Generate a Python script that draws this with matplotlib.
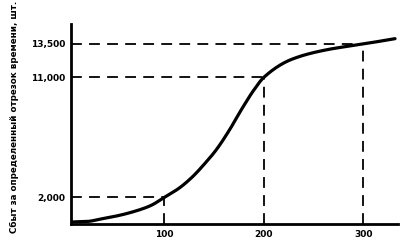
import matplotlib
matplotlib.use("Agg")
import matplotlib.pyplot as plt
import numpy as np

# curve
time_x = [7, 23, 36, 53, 70, 86, 100, 115, 128, 142, 152, 165, 178, 190, 200, 228, 262, 300, 332]
sales_y = [150, 195, 375, 620, 950, 1375, 2000, 2700, 3525, 4650, 5550, 7000, 8650, 10050, 11000, 12350, 13050, 13500, 13900]

# marked points
mark_x = [100, 200, 300]
mark_y = [2000, 11000, 13500]
xtick_labels = ["100", "200", "300"]
ytick_labels = ["2,000", "11,000", "13,500"]
ylabel = "Сбыт за определенный отрезок времени, шт."


def pchip(x, y, xs):
    # monotone cubic through the read points
    x = np.asarray(x, float)
    y = np.asarray(y, float)
    h = np.diff(x)
    d = np.diff(y) / h
    m = np.zeros_like(y)
    for i in range(1, len(x) - 1):
        if d[i - 1] * d[i] > 0:
            w1 = 2 * h[i] + h[i - 1]
            w2 = h[i] + 2 * h[i - 1]
            m[i] = (w1 + w2) / (w1 / d[i - 1] + w2 / d[i])
    m[0] = d[0]
    m[-1] = d[-1]
    idx = np.clip(np.searchsorted(x, xs) - 1, 0, len(h) - 1)
    t = (xs - x[idx]) / h[idx]
    h00 = 2 * t**3 - 3 * t**2 + 1
    h10 = t**3 - 2 * t**2 + t
    h01 = -2 * t**3 + 3 * t**2
    h11 = t**3 - t**2
    return h00 * y[idx] + h10 * h[idx] * m[idx] + h01 * y[idx + 1] + h11 * h[idx] * m[idx + 1]


fig = plt.figure(figsize=(4.04, 2.44), dpi=100)
ax = fig.add_axes([71 / 404, 1 - 224 / 244, 327 / 404, 200 / 244])

xs = np.linspace(time_x[0], time_x[-1], 400)
ax.plot(xs, pchip(time_x, sales_y, xs), color="black", lw=2.3, solid_capstyle="round")

for mx, my in zip(mark_x, mark_y):
    ax.plot([6, mx], [my, my], color="black", lw=1.3, dashes=(6, 4))
    ax.plot([mx, mx], [0, my], color="black", lw=1.3, dashes=(6, 4))

ax.set_xlim(6, 335)
ax.set_ylim(0, 15000)
ax.set_xticks(mark_x)
ax.set_xticklabels(xtick_labels, fontsize=6.5, fontweight="bold")
ax.set_yticks(mark_y)
ax.set_yticklabels(ytick_labels, fontsize=6.5, fontweight="bold")
ax.tick_params(length=0, pad=4)
for s in ["top", "right"]:
    ax.spines[s].set_visible(False)
ax.spines["left"].set_linewidth(2)
ax.spines["bottom"].set_linewidth(2)

fig.text(14 / 404, 1 - 117 / 244, ylabel, rotation=90, ha="center", va="center",
         fontsize=6.3, fontweight="bold")

fig.savefig("out.png", dpi=100)
